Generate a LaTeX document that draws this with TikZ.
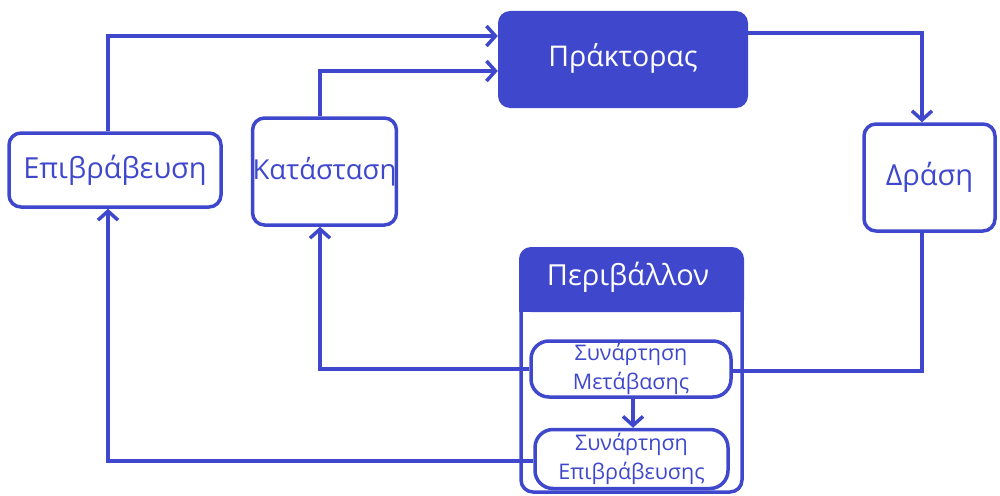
\documentclass[tikz,border=0pt]{standalone}
\usepackage{fontspec}
\setmainfont{Open Sans}
\usetikzlibrary{arrows.meta}
\definecolor{mblue}{RGB}{63,72,204}
\begin{document}
\begin{tikzpicture}[x=1pt,y=-1pt,
  box/.style={draw=mblue, line width=3.5pt, rounded corners=12pt, text=mblue,
    font=\fontsize{29}{34}\selectfont, inner sep=0pt, align=center},
  fillbox/.style={fill=mblue, rounded corners=12pt, text=white,
    font=\fontsize{28.5}{34}\selectfont, inner sep=0pt},
  fbox/.style={draw=mblue, line width=3.5pt, rounded corners=18pt, text=mblue,
    font=\fontsize{21.5}{30}\selectfont, inner sep=0pt, align=center},
  conn/.style={draw=mblue, line width=3.5pt},
  arr/.style={conn, -{Straight Barb[length=9pt,width=20pt]}}]
\useasboundingbox (0,0) rectangle (1000,495);
% environment container
\node[fillbox, minimum width=225pt, minimum height=65pt] (envhead) at (631.5,279.5) {};
\fill[mblue] ([yshift=20pt]envhead.south west) rectangle (envhead.south east);
\node[text=white, font=\fontsize{29}{34}\selectfont] (envtxt) at (628,277) {Περιβάλλον};
\node[draw=mblue, line width=3.5pt, rounded corners=12pt, minimum width=221pt,
  minimum height=243pt, inner sep=0pt] (env) at (631.5,370.5) {};
% nodes
\node[fillbox, minimum width=250pt, minimum height=97pt] (agent) at (623,59.5) {\raisebox{8pt}{Πράκτορας}};
\node[box, minimum width=212pt, minimum height=74pt] (rew) at (115,170) {Επιβράβευση};
\node[box, minimum width=143pt, minimum height=107pt, font=\fontsize{27.5}{34}\selectfont] (state) at (324.5,171.5) {\raisebox{6pt}{Κατάσταση}};
\node[box, minimum width=131pt, minimum height=107pt] (action) at (929.5,177.5) {\raisebox{2pt}{Δράση}};
\node[fbox, minimum width=200pt, minimum height=56pt] (trans) at (631,369) {Συνάρτηση\\[-1pt]Μετάβασης};
\node[fbox, minimum width=193pt, minimum height=58pt] (rewf) at (631.5,459) {\raisebox{-10pt}{\begin{tabular}{@{}c@{}}Συνάρτηση\\[-1pt]Επιβράβευσης\end{tabular}}};
% connectors
\draw[arr] ([xshift=-7pt]rew.north) |- ([yshift=23.5pt]agent.west);
\draw[arr] ([xshift=-4.5pt]state.north) |- ([yshift=-11.5pt]agent.west);
\draw[arr] ([yshift=26.5pt]agent.east) -| ([xshift=-7.5pt]action.north);
\draw[conn] ([xshift=-7.5pt]action.south) |- ([yshift=-2pt]trans.east);
\draw[arr] (trans.west) -| ([xshift=-4.5pt]state.south);
\draw[arr] ([xshift=2pt]trans.south) -- ([xshift=1.5pt]rewf.north);
\draw[arr] ([yshift=-2pt]rewf.west) -| ([xshift=-7pt]rew.south);
\end{tikzpicture}
\end{document}
